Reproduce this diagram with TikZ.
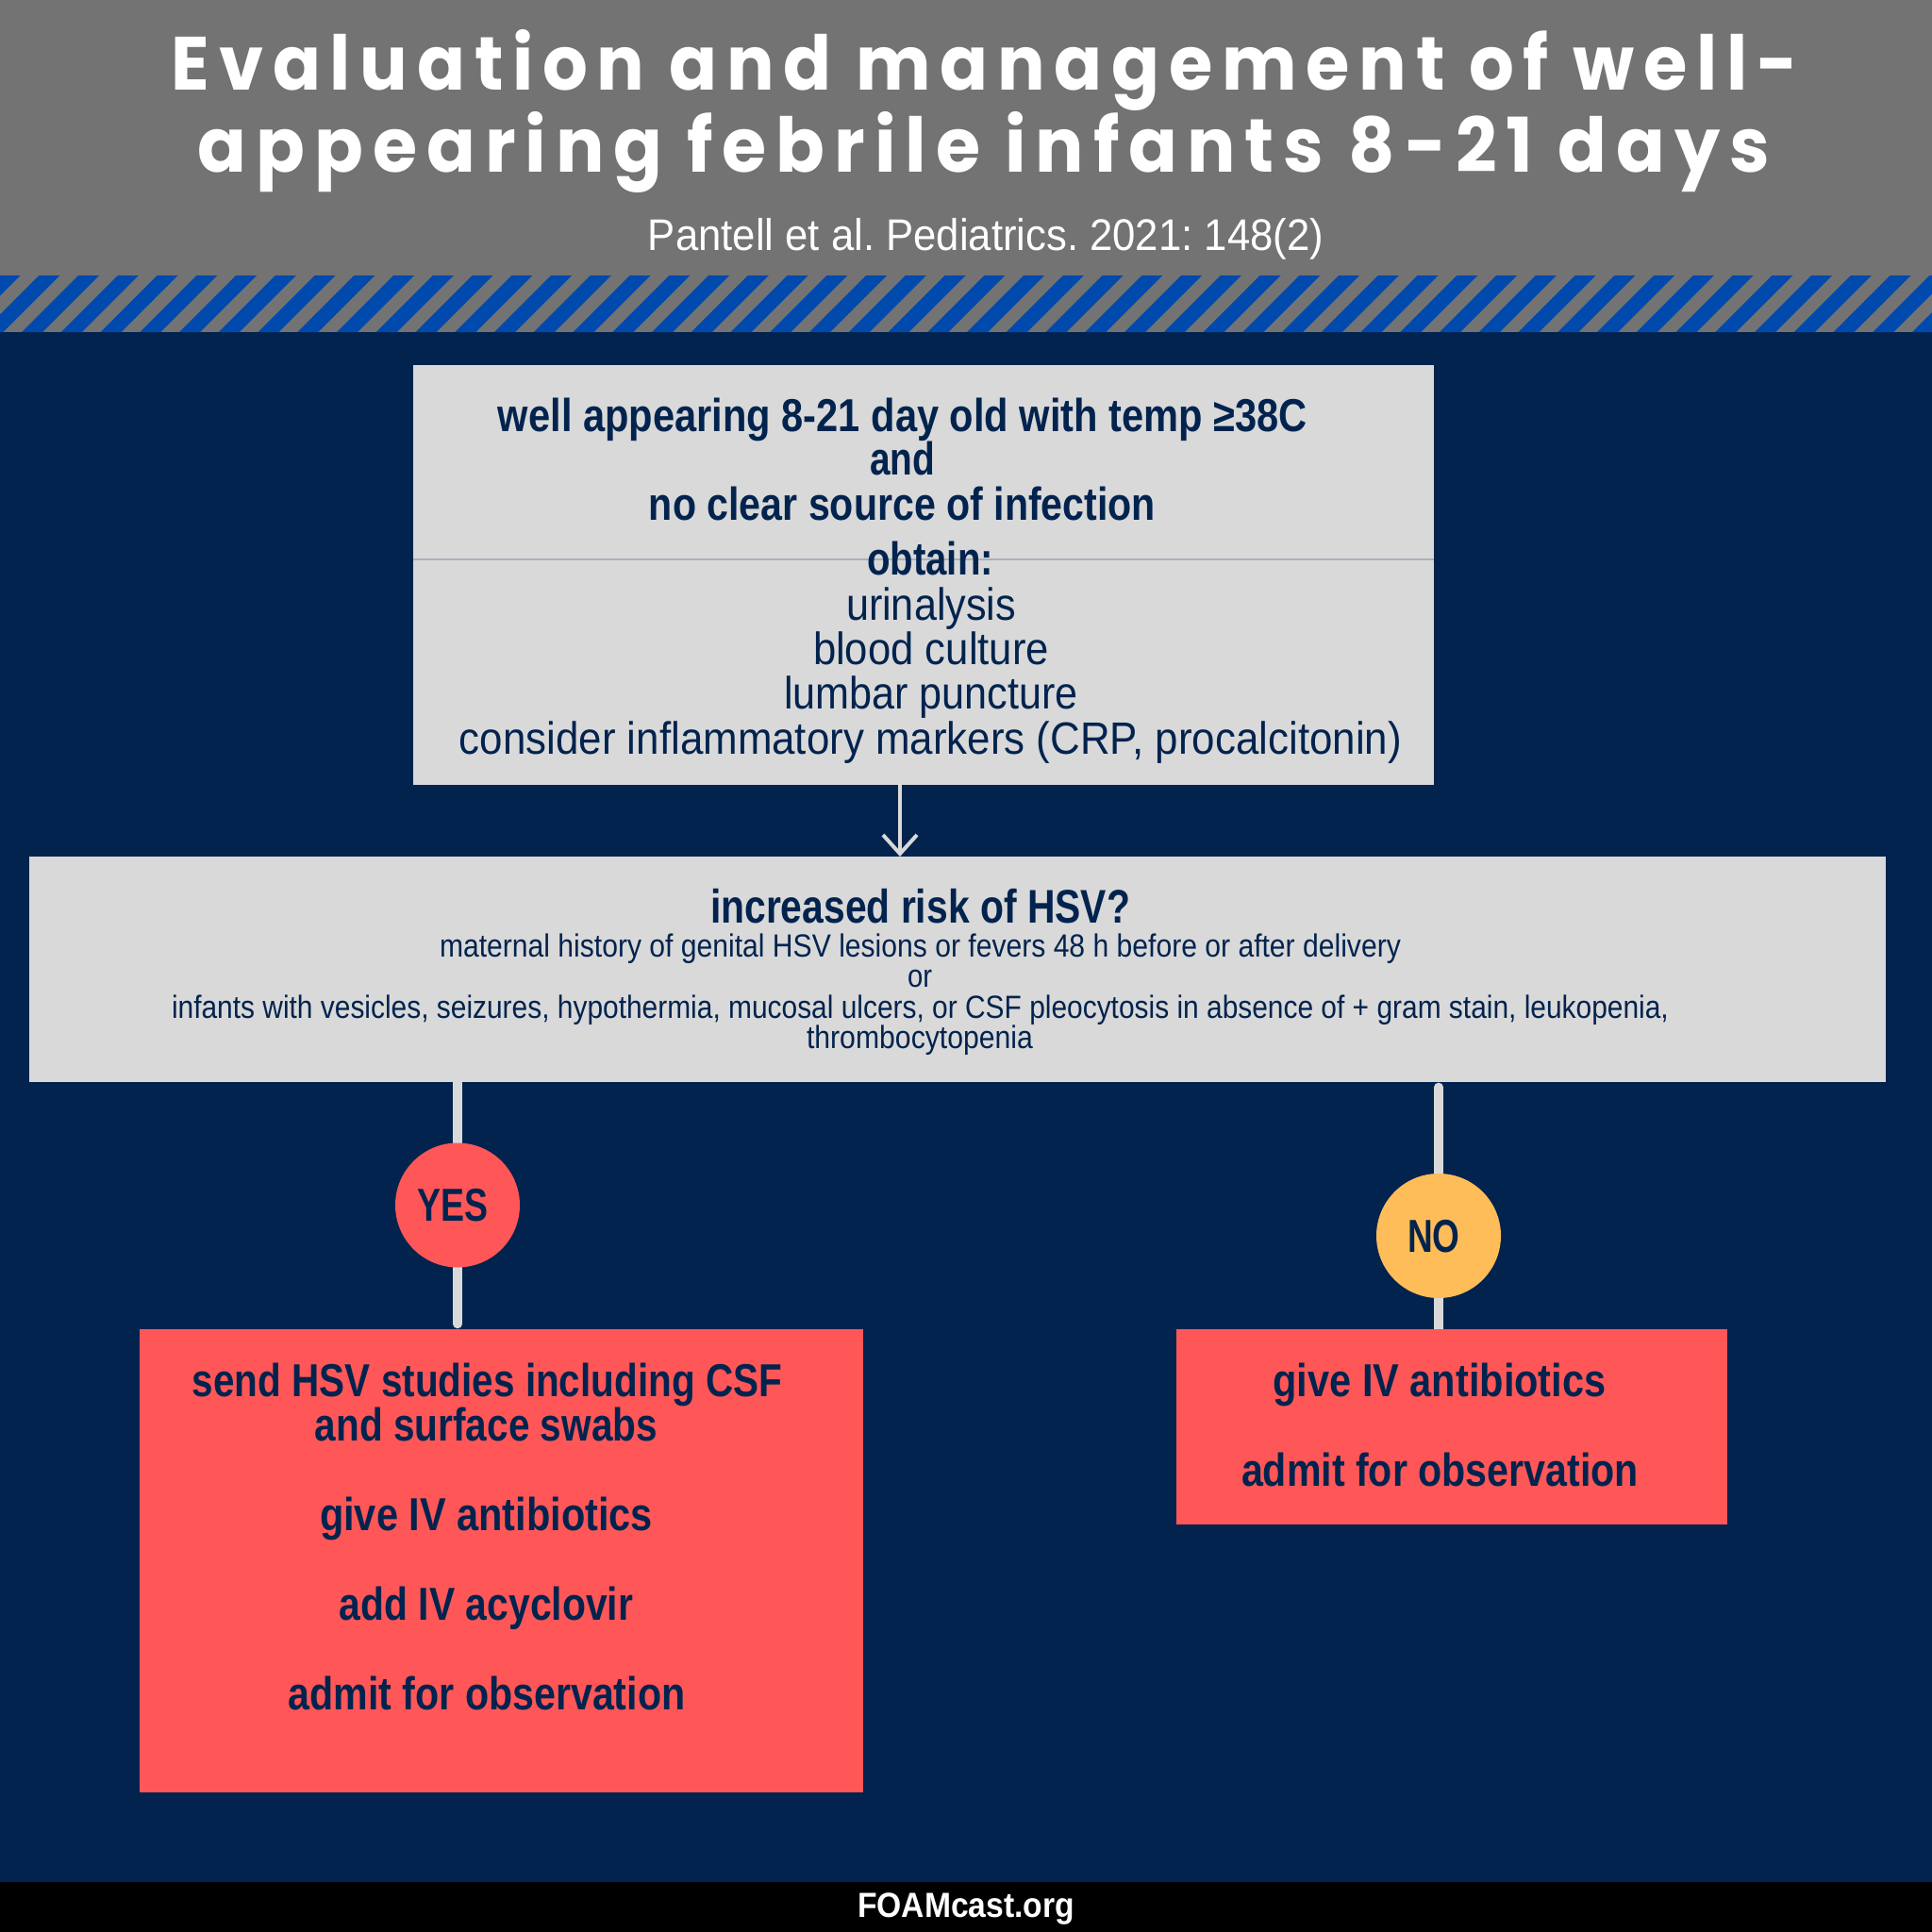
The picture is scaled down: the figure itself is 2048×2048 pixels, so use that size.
\documentclass[tikz,border=0pt]{standalone}
\usepackage{fontspec}
\usepackage{graphicx}
\setmainfont{Liberation Sans}
\newfontfamily\titlefam[LetterSpace=13]{Poppins}
\usetikzlibrary{arrows.meta}
\definecolor{navy}{HTML}{02234E}
\definecolor{headgrey}{HTML}{737373}
\definecolor{stripeblue}{HTML}{004AAD}
\definecolor{boxgrey}{HTML}{D9D9D9}
\definecolor{coral}{HTML}{FF5757}
\definecolor{amber}{HTML}{FFBD59}
\definecolor{rulegrey}{HTML}{A9B1BC}
\newcommand{\fitw}[2]{\resizebox{#1pt}{\height}{#2}}
\frenchspacing
\pgfdeclarelayer{page}
\pgfdeclarelayer{wires}
\pgfsetlayers{page,wires,main}
\tikzset{
  panel/.style={rectangle,draw=none,inner sep=0,anchor=north west},
  badge/.style={circle,draw=none,minimum size=132pt,inner sep=0},
  tbase/.style={inner sep=0,outer sep=0,anchor=base,text=navy},
  boldbig/.style={tbase,font=\fontsize{49}{49}\selectfont\bfseries},
  plainbig/.style={tbase,font=\fontsize{48}{48}\selectfont},
  small/.style={tbase,font=\fontsize{34}{34}\selectfont},
  titletext/.style={tbase,text=white,font=\fontsize{80}{80}\selectfont\titlefam\bfseries},
  wire/.style={draw=boxgrey,line width=9.5pt,line cap=round},
  thin arrow/.style={draw=boxgrey,line width=4pt,-{Straight Barb[length=20pt,width=36pt,line width=4pt]}}
}
\begin{document}
\begin{tikzpicture}[x=1pt,y=-1pt]
\useasboundingbox (0,0) rectangle (2048,2048);
\begin{pgfonlayer}{page}
  \fill[navy] (0,0) rectangle (2048,2048);
  \fill[headgrey] (0,0) rectangle (2048,352);
  \begin{scope}
    \clip (0,292) rectangle (2048,352);
    \foreach \k in {0,...,51}{
      \pgfmathsetmacro{\t}{-0.4+41.75*\k}
      \fill[stripeblue] (\t,292) -- (\t+22,292) -- (\t+22-60,352) -- (\t-60,352) -- cycle;
    }
  \end{scope}
  \fill[black] (0,1995) rectangle (2048,2048);
\end{pgfonlayer}

% panels
\node[panel,fill=boxgrey,minimum width=1082pt,minimum height=445pt] (box1) at (438,386.5) {};
\node[panel,fill=boxgrey,minimum width=1968pt,minimum height=238.5pt] (box2) at (31,908) {};
\node[panel,fill=coral,minimum width=767.5pt,minimum height=491pt] (box3) at (147.5,1409) {};
\node[panel,fill=coral,minimum width=583.5pt,minimum height=206.5pt] (box4) at (1247,1409) {};
\node[badge,fill=coral] (yes) at (485,1277.5) {};
\node[badge,fill=amber] (no) at (1525,1310) {};
\coordinate (arrowx) at (954,0);
\coordinate (ruley) at (0,593);

\draw[rulegrey,line width=1.5pt] (box1.west |- ruley) -- (box1.east |- ruley);

% connectors
\draw[thin arrow] (box1.south -| arrowx) -- (box2.north -| arrowx);
\begin{pgfonlayer}{wires}
  \draw[wire] (box2.south -| yes) -- (yes);
  \draw[wire,shorten >=5.5pt] (yes) -- (box3.north -| yes);
  \draw[wire,shorten <=5.5pt] (box2.south -| no) -- (no);
  \draw[wire] (no) -- (box4.north -| no);
\end{pgfonlayer}

% header
\node[titletext] (t1) at (1044,95) {\fitw{1724}{Evaluation and management of well-}};
\node[titletext] (t2) at (1043,182) {\fitw{1666}{appearing febrile infants 8-21 days}};
\node[tbase,text=white,font=\fontsize{47}{47}\selectfont] (t3) at (1045,265) {\fitw{716}{Pantell et al. Pediatrics. 2021: 148(2)}};

% box 1
\node[boldbig] (a1) at (957,457) {\fitw{858}{well appearing 8-21 day old with temp ≥38C}};
\node[boldbig] (a2) at (956.5,503.5) {\fitw{69}{and}};
\node[boldbig] (a3) at (956.5,551) {\fitw{537}{no clear source of infection}};
\node[boldbig] (a4) at (986,609) {\fitw{134}{obtain:}};
\node[plainbig] (a5) at (987,657) {\fitw{180}{urinalysis}};
\node[plainbig] (a6) at (987,704) {\fitw{250}{blood culture}};
\node[plainbig] (a7) at (987,751) {\fitw{312}{lumbar puncture}};
\node[plainbig] (a8) at (986.5,799) {\fitw{999}{consider inflammatory markers (CRP, procalcitonin)}};

% box 2
\node[boldbig,font=\fontsize{50}{50}\selectfont\bfseries] (b1) at (975.5,978) {\fitw{445}{increased risk of HSV?}};
\node[small] (b2) at (975.5,1014) {\fitw{1019}{maternal history of genital HSV lesions or fevers 48 h before or after delivery}};
\node[small] (b3) at (975,1046) {\fitw{26}{or}};
\node[small] (b4) at (975.5,1079) {\fitw{1587}{infants with vesicles, seizures, hypothermia, mucosal ulcers, or CSF pleocytosis in absence of + gram stain, leukopenia,}};
\node[small] (b5) at (975,1111) {\fitw{240}{thrombocytopenia}};

% badges
\node[boldbig] (yl) at (479.5,1294) {\fitw{75}{YES}};
\node[boldbig] (nl) at (1520,1327) {\fitw{55.5}{NO}};

% box 3
\node[boldbig] (c1) at (516.5,1480) {\fitw{625}{send HSV studies including CSF}};
\node[boldbig] (c2) at (515.5,1527) {\fitw{363}{and surface swabs}};
\node[boldbig] (c3) at (515.5,1622) {\fitw{353}{give IV antibiotics}};
\node[boldbig] (c4) at (515.5,1717) {\fitw{311}{add IV acyclovir}};
\node[boldbig] (c5) at (516,1812) {\fitw{421}{admit for observation}};

% box 4
\node[boldbig] (d1) at (1526,1480) {\fitw{353}{give IV antibiotics}};
\node[boldbig] (d2) at (1526.5,1575) {\fitw{421}{admit for observation}};

% footer
\node[tbase,text=white,font=\fontsize{37}{37}\selectfont\bfseries] (f1) at (1024,2032) {\fitw{230}{FOAMcast.org}};
\end{tikzpicture}
\end{document}
